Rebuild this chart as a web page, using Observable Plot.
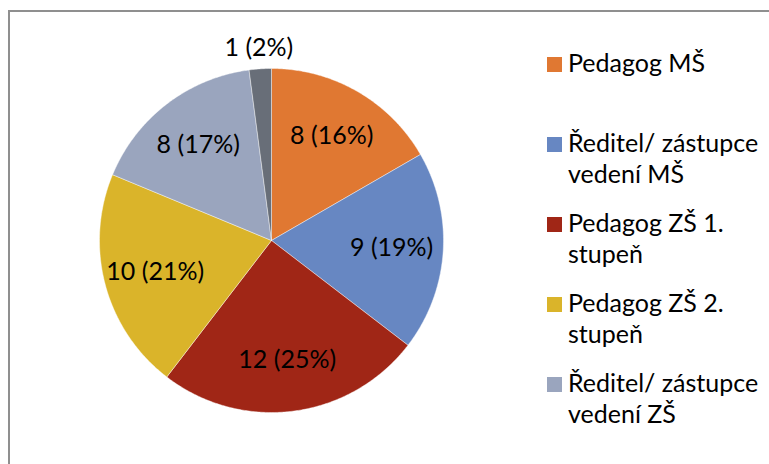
<!DOCTYPE html>
<html>
<head>
<meta charset="utf-8">
<script src="https://cdn.jsdelivr.net/npm/d3@7"></script>
<script src="https://cdn.jsdelivr.net/npm/@observablehq/plot@0.6"></script>
<style>
  html, body { margin: 0; padding: 0; background: #fff; }
  #wrap { position: relative; width: 769px; height: 464px; overflow: hidden; background: #fff; }
  #chart { position: absolute; left: 0; top: 0; }
  #frame { position: absolute; left: 8px; top: 10px; width: 900px; height: 600px; border: 2px solid #8f8f8f; }
  #legend { position: absolute; left: 547px; top: 47px; font-family: Lato, "Open Sans", sans-serif; font-size: 25px; line-height: 31px; color: #000; }
  .item { position: absolute; left: 0; white-space: pre; }
  .sw { position: absolute; left: 0; top: 9.5px; width: 15px; height: 15px; }
  .lab { position: absolute; left: 21px; top: 0; }
</style>
</head>
<body>
<div id="wrap">
  <div id="chart"></div>
  <div id="frame"></div>
  <div id="legend"></div>
</div>
<script>
const categories = ["Pedagog MŠ", "Ředitel/ zástupce vedení MŠ", "Pedagog ZŠ 1. stupeň", "Pedagog ZŠ 2. stupeň", "Ředitel/ zástupce vedení ZŠ", "Jiné"];
const legendLabels = ["Pedagog MŠ", "Ředitel/ zástupce\nvedení MŠ", "Pedagog ZŠ 1.\nstupeň", "Pedagog ZŠ 2.\nstupeň", "Ředitel/ zástupce\nvedení ZŠ"];
const values = [8, 9, 12, 10, 8, 1];
const percents = [16, 19, 25, 21, 17, 2];
const colors = ["#e07832", "#6787c2", "#a02616", "#dab42a", "#9aa5be", "#686e78"];

const rows = categories.map((c, i) => ({cat: c, value: values[i], pct: percents[i]}));
const arcs = d3.pie().sort(null).value(d => d.value)(rows);

// slice outlines in unit-circle coordinates (angle 0 at 12 o'clock, clockwise)
const pts = [];
arcs.forEach(a => {
  const c = a.data.cat;
  const n = Math.max(2, Math.ceil((a.endAngle - a.startAngle) / (Math.PI / 360)));
  pts.push({cat: c, x: 0, y: 0});
  for (let i = 0; i <= n; i++) {
    const t = a.startAngle + (a.endAngle - a.startAngle) * i / n;
    pts.push({cat: c, x: Math.sin(t), y: Math.cos(t)});
  }
  pts.push({cat: c, x: 0, y: 0});
});

const labels = arcs.map(a => {
  const m = (a.startAngle + a.endAngle) / 2;
  const share = (a.endAngle - a.startAngle) / (2 * Math.PI);
  const r = share < 0.05 ? 1.12 : 0.7;
  return {x: r * Math.sin(m), y: r * Math.cos(m), text: `${a.data.value} (${a.data.pct}%)`};
});

const cx = 271, cy = 240, R = 172;
const plot = Plot.plot({
  width: 769,
  height: 464,
  margin: 0,
  style: {background: "transparent"},
  x: {domain: [-1, 1], range: [cx - R, cx + R], axis: null},
  y: {domain: [-1, 1], range: [cy + R, cy - R], axis: null},
  color: {domain: categories, range: colors},
  marks: [
    Plot.line(pts, {x: "x", y: "y", z: "cat", fill: "cat", stroke: "white", strokeWidth: 0.6, strokeOpacity: 0.7}),
    Plot.text(labels, {x: "x", y: "y", text: "text", fontSize: 25, fill: "#000", fontFamily: "Lato, 'Open Sans', sans-serif"})
  ]
});
document.getElementById("chart").appendChild(plot);

const legend = document.getElementById("legend");
legendLabels.forEach((l, i) => {
  const it = document.createElement("div");
  it.className = "item";
  it.style.top = (i * 80) + "px";
  const sw = document.createElement("div");
  sw.className = "sw";
  sw.style.background = colors[i];
  const lab = document.createElement("div");
  lab.className = "lab";
  lab.textContent = l;
  it.appendChild(sw);
  it.appendChild(lab);
  legend.appendChild(it);
});
</script>
</body>
</html>
